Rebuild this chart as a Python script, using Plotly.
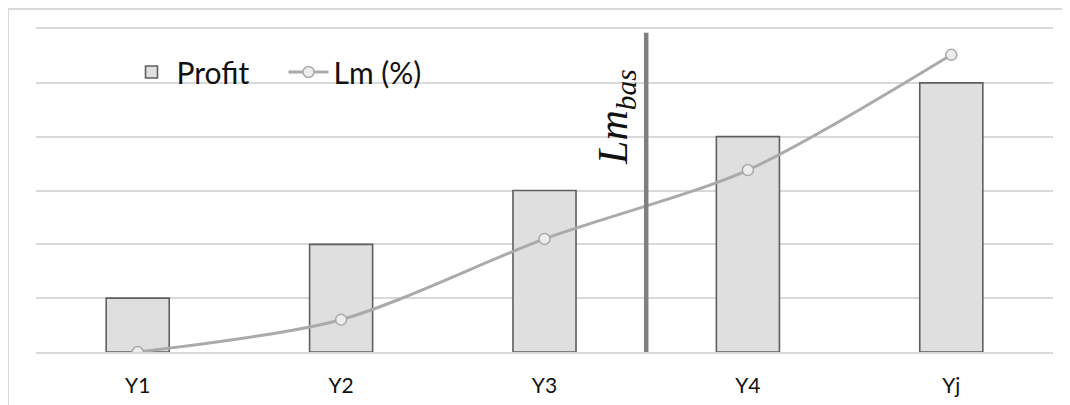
import plotly.graph_objects as go

categories = ["Y1", "Y2", "Y3", "Y4", "Yj"]
profit = [1, 2, 3, 4, 5]
lm_pct = [0.0, 0.6, 2.1, 3.38, 5.52]
lm_bas_x = 2.5
lm_bas_top = 5.93

fig = go.Figure()
fig.add_trace(go.Bar(
    x=categories, y=profit, name="Profit",
    marker=dict(color="#dfdfdf", line=dict(color="#5f5f5f", width=1.6)),
))
fig.add_trace(go.Scatter(
    x=categories, y=lm_pct, name="Lm (%)", mode="lines+markers",
    line=dict(color="#aaaaaa", width=3, shape="spline", smoothing=0.8),
    marker=dict(symbol="circle", size=11, color="#ececec", line=dict(color="#aaaaaa", width=1.5)),
))

# vertical reference line
fig.add_shape(type="line", xref="x", yref="y", x0=lm_bas_x, x1=lm_bas_x, y0=0, y1=lm_bas_top,
              line=dict(color="#7f7f7f", width=4.5), layer="above")
fig.add_annotation(x=lm_bas_x, y=4.37, xref="x", yref="y", text="<i>Lm</i><sub><i>bas</i></sub>",
                   textangle=-90, showarrow=False, xshift=-30,
                   font=dict(family="Liberation Serif", size=42, color="#111111"))

# outer chart border (top and left)
fig.add_shape(type="line", xref="paper", yref="paper", x0=-0.0275, x1=1.03, y0=1.062, y1=1.062,
              line=dict(color="#d9d9d9", width=2))
fig.add_shape(type="line", xref="paper", yref="paper", x0=-0.0275, x1=-0.0275, y0=-0.2, y1=1.062,
              line=dict(color="#d9d9d9", width=2))

fig.update_layout(
    width=1062, height=397,
    margin=dict(l=28, r=17, t=21, b=53, autoexpand=False),
    paper_bgcolor="white", plot_bgcolor="white",
    bargap=0.69,
    showlegend=True,
    legend=dict(orientation="h", x=0.089, y=0.867, xanchor="left", yanchor="middle",
                font=dict(family="Lato", size=30, color="#111111"),
                bgcolor="rgba(0,0,0,0)", itemwidth=40, entrywidth=102),
    font=dict(family="Lato", color="#111111"),
)
fig.update_xaxes(showgrid=False, showline=True, mirror=True, linecolor="#d9d9d9", linewidth=2,
                 ticks="", ticklabelstandoff=14, tickfont=dict(size=21, color="#111111"),
                 range=[-0.5, 4.5])
fig.update_yaxes(range=[0, 6], dtick=1, showticklabels=False, showgrid=True,
                 gridcolor="#d9d9d9", gridwidth=2, zeroline=False)

fig.write_html("out.html")
